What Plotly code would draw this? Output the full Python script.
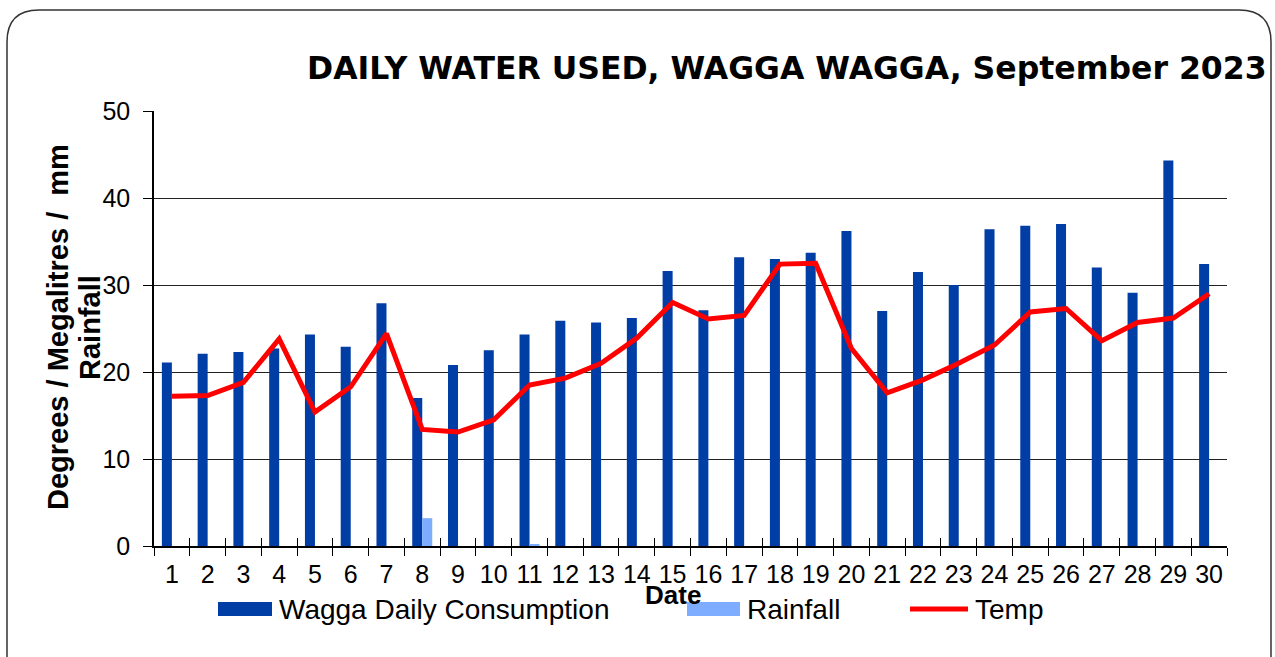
import plotly.graph_objects as go

days = [str(d) for d in range(1, 31)]
consumption = [21.1, 22.1, 22.3, 22.7, 24.3, 22.9, 27.9, 17.0, 20.8, 22.5,
               24.3, 25.9, 25.7, 26.2, 31.6, 27.1, 33.2, 33.0, 33.7, 36.2,
               27.0, 31.5, 30.0, 36.4, 36.8, 37.0, 32.0, 29.1, 44.3, 32.4]
rainfall = [0, 0, 0, 0, 0, 0, 0, 3.2, 0, 0,
            0.2, 0, 0, 0, 0, 0, 0, 0, 0, 0,
            0, 0, 0, 0, 0, 0, 0, 0, 0, 0]
temp = [17.2, 17.3, 18.8, 23.8, 15.4, 18.3, 24.4, 13.4, 13.1, 14.5,
        18.5, 19.3, 21.0, 23.9, 28.0, 26.1, 26.5, 32.4, 32.5, 22.7,
        17.6, 19.1, 21.0, 23.1, 26.9, 27.3, 23.6, 25.7, 26.2, 29.0]
y_ticks = [0, 10, 20, 30, 40, 50]

W, H = 1275, 657
L, R, T, B = 154, 1227, 111, 546

def px(x):
    return (x - L) / (R - L)

def py(y):
    return (B - y) / (B - T)

BLUE = "#003DA5"
LIGHT = "#7EADFF"
RED = "#FF0000"
FONT = "Liberation Sans, Arial, sans-serif"

fig = go.Figure()
fig.add_trace(go.Bar(x=days, y=consumption, name="Wagga Daily Consumption",
                     marker=dict(color=BLUE, line=dict(width=0))))
fig.add_trace(go.Bar(x=days, y=rainfall, name="Rainfall",
                     marker=dict(color=LIGHT, line=dict(width=0))))
fig.add_trace(go.Scatter(x=days, y=temp, name="Temp", mode="lines",
                         line=dict(color=RED, width=5)))
# transparent copy on an overlay axis, only so its inside tick marks are drawn
fig.add_trace(go.Scatter(x=days, y=temp, xaxis="x2", mode="lines",
                         line=dict(color="rgba(0,0,0,0)", width=0),
                         showlegend=False, hoverinfo="skip"))

xrange = [-0.5, len(days) - 0.5]
fig.update_layout(
    width=W, height=H,
    margin=dict(l=L, r=W - R, t=T, b=H - B),
    paper_bgcolor="white", plot_bgcolor="white",
    barmode="group", bargap=0.44, bargroupgap=0,
    showlegend=False,
    font=dict(family=FONT, color="black"),
    xaxis=dict(type="category", range=xrange, tickson="boundaries",
               ticks="outside", ticklen=8, tickcolor="black", tickwidth=1.2,
               showline=True, linecolor="black", linewidth=1.5, showgrid=False,
               tickangle=0, tickfont=dict(size=25, family=FONT),
               ticklabelstandoff=5),
    xaxis2=dict(type="category", overlaying="x", anchor="y", side="bottom",
                range=xrange, tickson="boundaries",
                ticks="inside", ticklen=8, tickcolor="black", tickwidth=1.2,
                showticklabels=False, showgrid=False, showline=False,
                zeroline=False),
    yaxis=dict(range=[0, 50], tickvals=y_ticks, ticks="outside", ticklen=9,
               tickcolor="black", showline=True, linecolor="black", linewidth=1.5,
               showgrid=True, gridcolor="#222222", gridwidth=1.2,
               zeroline=False, tickfont=dict(size=25, family=FONT),
               ticklabelstandoff=8),
)

# rounded outer border
x0, y0, x1, y1, r = 7, 10, 1271, 690, 32
path = (f"M {px(x0+r)},{py(y0)} L {px(x1-r)},{py(y0)} "
        f"Q {px(x1)},{py(y0)} {px(x1)},{py(y0+r)} L {px(x1)},{py(y1-r)} "
        f"Q {px(x1)},{py(y1)} {px(x1-r)},{py(y1)} L {px(x0+r)},{py(y1)} "
        f"Q {px(x0)},{py(y1)} {px(x0)},{py(y1-r)} L {px(x0)},{py(y0+r)} "
        f"Q {px(x0)},{py(y0)} {px(x0+r)},{py(y0)} Z")
fig.add_shape(type="path", path=path, xref="paper", yref="paper",
              line=dict(color="#333333", width=1.5), layer="below")

annos = []
annos.append(dict(text="<b>DAILY WATER USED, WAGGA WAGGA, September 2023</b>",
                  x=px(1269), y=py(68), xanchor="right", yanchor="middle",
                  font=dict(size=31.5, family="DejaVu Sans, sans-serif", color="black")))
annos.append(dict(text="<b>Degrees / Megalitres /  mm</b>",
                  x=px(58), y=py(327), xanchor="center", yanchor="middle",
                  textangle=-90, font=dict(size=29, family=FONT)))
annos.append(dict(text="<b>Rainfall</b>",
                  x=px(90), y=py(328), xanchor="center", yanchor="middle",
                  textangle=-90, font=dict(size=29, family=FONT)))
annos.append(dict(text="<b>Date</b>", x=px(673), y=py(595), xanchor="center",
                  yanchor="middle", font=dict(size=26, family=FONT)))

# legend
leg_y = 609
items = [("Wagga Daily Consumption", 218, 272, "bar", BLUE),
         ("Rainfall", 687, 740, "bar", LIGHT),
         ("Temp", 910, 968, "line", RED)]
for name, a, b, kind, col in items:
    if kind == "bar":
        fig.add_shape(type="rect", xref="paper", yref="paper",
                      x0=px(a), x1=px(b), y0=py(leg_y + 7), y1=py(leg_y - 7),
                      fillcolor=col, line=dict(width=0))
    else:
        fig.add_shape(type="line", xref="paper", yref="paper",
                      x0=px(a), x1=px(b), y0=py(leg_y), y1=py(leg_y),
                      line=dict(color=col, width=5))
    annos.append(dict(text=name, x=px(b + 5), y=py(leg_y), xanchor="left",
                      yanchor="middle", font=dict(size=28, family=FONT)))

for an in annos:
    an.update(xref="paper", yref="paper", showarrow=False)
fig.update_layout(annotations=annos)

fig.write_html("out.html", config={"displayModeBar": False},
               post_script="document.body.style.margin='0';")
